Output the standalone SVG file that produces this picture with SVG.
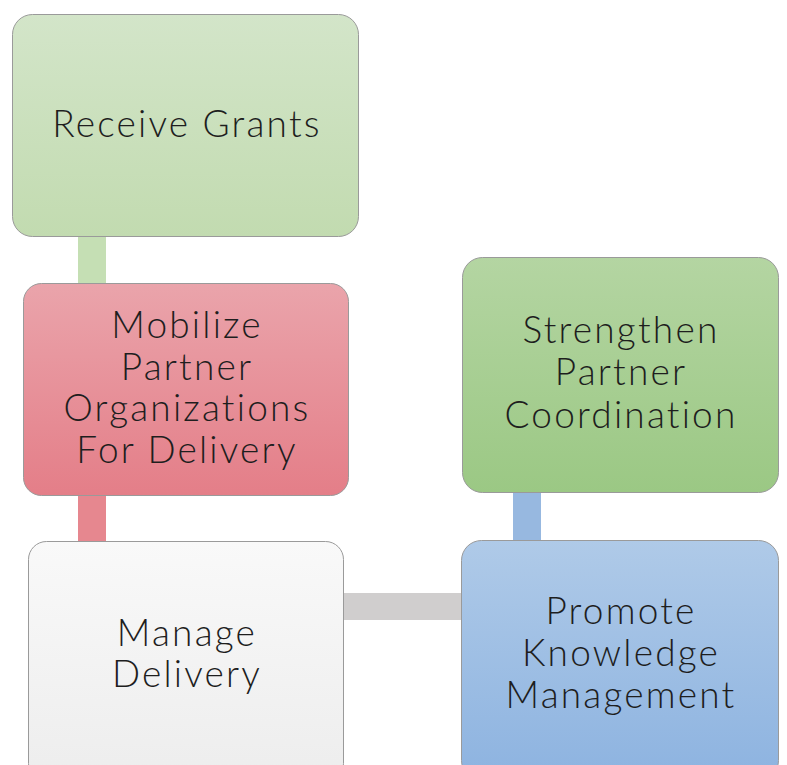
<svg xmlns="http://www.w3.org/2000/svg" width="787" height="765" viewBox="0 0 787 765">
<defs>
<linearGradient id="gGreen1" x1="0" y1="0" x2="0" y2="1"><stop offset="0" stop-color="#d3e5c9"/><stop offset="1" stop-color="#c2dbb0"/></linearGradient>
<linearGradient id="gRed" x1="0" y1="0" x2="0" y2="1"><stop offset="0" stop-color="#eaa4ab"/><stop offset="1" stop-color="#e47e88"/></linearGradient>
<linearGradient id="gGray" x1="0" y1="0" x2="0" y2="1"><stop offset="0" stop-color="#f9f9f9"/><stop offset="1" stop-color="#ededed"/></linearGradient>
<linearGradient id="gGreen2" x1="0" y1="0" x2="0" y2="1"><stop offset="0" stop-color="#b4d5a2"/><stop offset="1" stop-color="#9bc884"/></linearGradient>
<linearGradient id="gBlue" x1="0" y1="0" x2="0" y2="1"><stop offset="0" stop-color="#afcae8"/><stop offset="1" stop-color="#8db3e0"/></linearGradient>
</defs>
<style>
.box{stroke:#9a9a9a;stroke-width:1}
.t{font-family:Lato,"Open Sans","Liberation Sans",sans-serif;font-size:37px;font-weight:300;letter-spacing:2.2px;fill:#1e1e1e;text-anchor:middle}
</style>
<rect width="787" height="765" fill="#ffffff"/>
<g id="connectors">
<rect x="78" y="236" width="28" height="48" fill="#c5dfb4"/>
<rect x="78" y="495" width="28" height="47" fill="#e6878f"/>
<rect x="343" y="593" width="119" height="27" fill="#d0cece"/>
<rect x="513" y="491" width="28" height="50" fill="#97b8e0"/>
</g>
<g id="receive-grants">
<rect class="box" x="12.5" y="14.5" width="346" height="222" rx="20" fill="url(#gGreen1)"/>
<text class="t" x="187" y="137">Receive Grants</text>
</g>
<g id="mobilize">
<rect class="box" x="23.5" y="283.5" width="325" height="212" rx="18" fill="url(#gRed)"/>
<text class="t" x="187" y="338">Mobilize</text>
<text class="t" x="187" y="379.5">Partner</text>
<text class="t" x="187" y="421">Organizations</text>
<text class="t" x="187" y="462.5">For Delivery</text>
</g>
<g id="manage-delivery">
<rect class="box" x="28.5" y="541.5" width="315" height="240" rx="18" fill="url(#gGray)"/>
<text class="t" x="187" y="646">Manage</text>
<text class="t" x="187" y="687">Delivery</text>
</g>
<g id="strengthen">
<rect class="box" x="462.5" y="257.5" width="316" height="235" rx="20" fill="url(#gGreen2)"/>
<text class="t" x="621" y="343">Strengthen</text>
<text class="t" x="621" y="385">Partner</text>
<text class="t" x="621" y="428">Coordination</text>
</g>
<g id="promote">
<rect class="box" x="461.5" y="540.5" width="317" height="240" rx="20" fill="url(#gBlue)"/>
<text class="t" x="621" y="624">Promote</text>
<text class="t" x="621" y="665.5">Knowledge</text>
<text class="t" x="621" y="708">Management</text>
</g>
</svg>
